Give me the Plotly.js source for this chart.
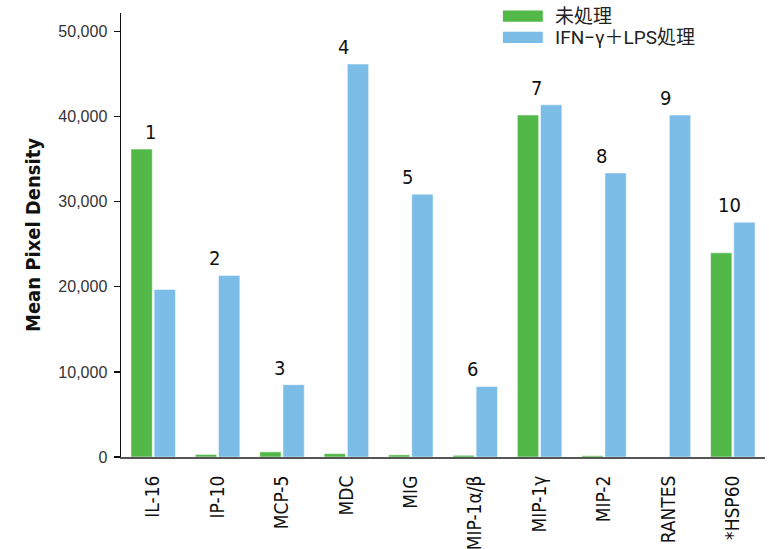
<!DOCTYPE html>
<html>
<head>
<meta charset="utf-8">
<script src="https://cdn.plot.ly/plotly-3.0.1.min.js"></script>
<style>html,body{margin:0;padding:0;background:#fff;}#chart{width:769px;height:549px;}</style>
</head>
<body>
<div id="chart"></div>
<script>
const categories = ["IL-16","IP-10","MCP-5","MDC","MIG","MIP-1α/β","MIP-1γ","MIP-2","RANTES","*HSP60"];
const untreated = [36200, 300, 600, 400, 250, 200, 40200, 150, 0, 24000];
const treated = [19700, 21350, 8500, 46200, 30900, 8300, 41400, 33400, 40200, 27600];
const peakLabels = ["1","2","3","4","5","6","7","8","9","10"];
const seriesNames = ["未処理", "IFN−γ＋LPS処理"];
const colors = ["#52B948", "#7BBDE6"];

const narrow = "Liberation Sans Narrow, DejaVu Sans Condensed, Arial Narrow, sans-serif";

const traces = [
  {type:"bar", name:seriesNames[0], x:categories, y:untreated,
   marker:{color:colors[0], line:{color:"rgba(255,255,255,0.5)", width:1}}, hoverinfo:"none"},
  {type:"bar", name:seriesNames[1], x:categories, y:treated,
   marker:{color:colors[1], line:{color:"rgba(255,255,255,0.5)", width:1}}, hoverinfo:"none"}
];

const annotations = categories.map((c,i)=>({
  x:c, y:Math.max(untreated[i], treated[i]), xref:"x", yref:"y",
  text:peakLabels[i], showarrow:false, yanchor:"bottom", yshift:3, xshift:-3,
  font:{family:narrow, size:20, color:"#111"}
}));

// custom legend (wide swatches)
const legY = [0.993, 0.945];
const shapes = [];
seriesNames.forEach((n,i)=>{
  shapes.push({type:"rect", xref:"paper", yref:"paper", x0:0.593, x1:0.655,
    y0:legY[i]-0.0125, y1:legY[i]+0.0125, fillcolor:colors[i], line:{width:0}});
  annotations.push({xref:"paper", yref:"paper", x:0.671, y:legY[i], xanchor:"left", yanchor:"middle",
    text:n, showarrow:false, font:{family:"Roboto, Noto Sans CJK JP, sans-serif", size:19, color:"#222"}});
});

const layout = {
  width:769, height:549,
  margin:{l:121, r:4, t:13, b:92},
  paper_bgcolor:"#fff", plot_bgcolor:"#fff",
  showlegend:false,
  barmode:"group", bargap:0.28, bargroupgap:0.08,
  xaxis:{
    type:"category", range:[-0.5, 9.5], tickangle:-90,
    showline:true, linecolor:"#555", linewidth:2, ticks:"", ticklabelstandoff:9,
    tickfont:{family:narrow, size:19, color:"#111"}, showgrid:false, zeroline:false, fixedrange:true
  },
  yaxis:{
    range:[0, 52200], tickvals:[0,10000,20000,30000,40000,50000], tickformat:",",
    showline:true, linecolor:"#111", linewidth:1.5, ticks:"outside", ticklen:6, tickwidth:1.2, tickcolor:"#111",
    ticklabelstandoff:3,
    tickfont:{family:"Liberation Sans, Arial, sans-serif", size:16, color:"#333"},
    showgrid:false, zeroline:false,
    title:{text:"Mean Pixel Density", standoff:12, font:{family:narrow, size:20, color:"#111", weight:"bold"}}
  },
  annotations:annotations,
  shapes:shapes
};

Plotly.newPlot("chart", traces, layout, {staticPlot:true, displayModeBar:false});
</script>
</body>
</html>
